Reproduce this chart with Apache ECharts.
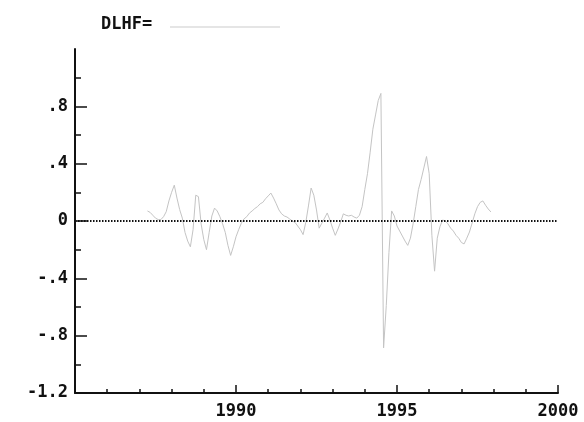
<!DOCTYPE html>
<html>
<head>
<meta charset="utf-8">
<script src="https://cdn.jsdelivr.net/npm/echarts@6/dist/echarts.min.js"></script>
<style>
  html, body { margin: 0; padding: 0; background: #fff; }
  #chart { width: 584px; height: 422px; }
</style>
</head>
<body>
<div id="chart"></div>
<script>
// Monthly series DLHF, first observation April 1987
var seriesName = 'DLHF=';
var startYear = 1987.25;
var dlhf = [
  0.07, 0.06, 0.04, 0.02, 0.01, 0.01, 0.03, 0.065, 0.14, 0.20,
  0.25, 0.16, 0.08, 0.02, -0.08, -0.14, -0.18, -0.06, 0.18, 0.17,
  -0.02, -0.13, -0.20, -0.08, 0.035, 0.09, 0.07, 0.03, -0.02, -0.08,
  -0.17, -0.24, -0.18, -0.11, -0.06, -0.015, 0.015, 0.03, 0.055, 0.07,
  0.087, 0.10, 0.12, 0.13, 0.155, 0.175, 0.195, 0.16, 0.12, 0.077,
  0.05, 0.035, 0.028, 0.014, 0.0, -0.01, -0.035, -0.06, -0.095, -0.01,
  0.105, 0.23, 0.18, 0.077, -0.05, -0.015, 0.02, 0.056, 0.007, -0.05,
  -0.10, -0.056, -0.007, 0.05, 0.04, 0.035, 0.04, 0.028, 0.02, 0.04,
  0.10, 0.22, 0.33, 0.48, 0.64, 0.74, 0.84, 0.89, -0.885, -0.59,
  -0.22, 0.07, 0.035, -0.035, -0.07, -0.105, -0.14, -0.17, -0.12, -0.02,
  0.10, 0.22, 0.29, 0.37, 0.45, 0.33, -0.10, -0.35, -0.12, -0.04,
  0.007, 0.0, -0.02, -0.05, -0.07, -0.10, -0.12, -0.15, -0.16, -0.12,
  -0.077, -0.014, 0.05, 0.10, 0.13, 0.14, 0.11, 0.084, 0.063
];

// Axis ticks and their printed labels
var xLabelYears = [1990, 1995, 2000];
var yTickValues = [-1.2, -0.8, -0.4, 0, 0.4, 0.8];
var yTickLabels = ['-1.2', '-.8', '-.4', '0', '.4', '.8'];

var points = dlhf.map(function (v, i) { return [startYear + i / 12, v]; });

var ink = '#111';
var labelFont = {
  color: ink,
  fontFamily: 'DejaVu Sans Mono',
  fontWeight: 'bold',
  fontSize: 17
};

var chart = echarts.init(document.getElementById('chart'), null, { renderer: 'canvas' });
chart.setOption({
  animation: false,
  backgroundColor: '#fff',
  title: {
    text: seriesName,
    left: 96,
    top: 11,
    textStyle: labelFont
  },
  graphic: [{
    type: 'line',
    shape: { x1: 170, y1: 27, x2: 280, y2: 27 },
    style: { stroke: '#dcdcdc', lineWidth: 1.5 },
    silent: true
  }],
  grid: { left: 75, right: 26, top: 49, bottom: 29, containLabel: false },
  xAxis: {
    type: 'value',
    min: 1985,
    max: 2000,
    interval: 5,
    axisLine: { show: true, onZero: false, lineStyle: { color: ink, width: 2 } },
    axisTick: { show: true, inside: true, length: 8, lineStyle: { color: ink, width: 1.5 } },
    minorTick: { show: true, splitNumber: 5, length: 4, lineStyle: { color: ink, width: 1.5 } },
    splitLine: { show: false },
    axisLabel: Object.assign({
      margin: 10,
      customValues: xLabelYears,
      formatter: function (v) { return String(v); }
    }, labelFont)
  },
  yAxis: {
    type: 'value',
    min: -1.2,
    max: 1.2,
    interval: 0.4,
    axisLine: { show: true, onZero: false, lineStyle: { color: ink, width: 2 } },
    axisTick: {
      show: true, inside: true, length: 12,
      customValues: yTickValues,
      lineStyle: { color: ink, width: 1.5 }
    },
    minorTick: { show: true, splitNumber: 2, length: 6, lineStyle: { color: ink, width: 1.5 } },
    splitLine: { show: false },
    axisLabel: Object.assign({
      margin: 7,
      customValues: yTickValues,
      formatter: function (v) {
        var k = yTickValues.findIndex(function (t) { return Math.abs(t - v) < 1e-6; });
        return k >= 0 ? yTickLabels[k] : '';
      }
    }, labelFont)
  },
  series: [{
    type: 'line',
    name: seriesName,
    data: points,
    showSymbol: false,
    symbol: 'none',
    lineStyle: { color: '#c4c4c4', width: 1 },
    z: 2,
    markLine: {
      silent: true,
      symbol: 'none',
      label: { show: false },
      lineStyle: { color: ink, width: 2, type: [1.5, 1.5] },
      data: [{ yAxis: 0 }],
      z: 3
    }
  }]
});
</script>
</body>
</html>
